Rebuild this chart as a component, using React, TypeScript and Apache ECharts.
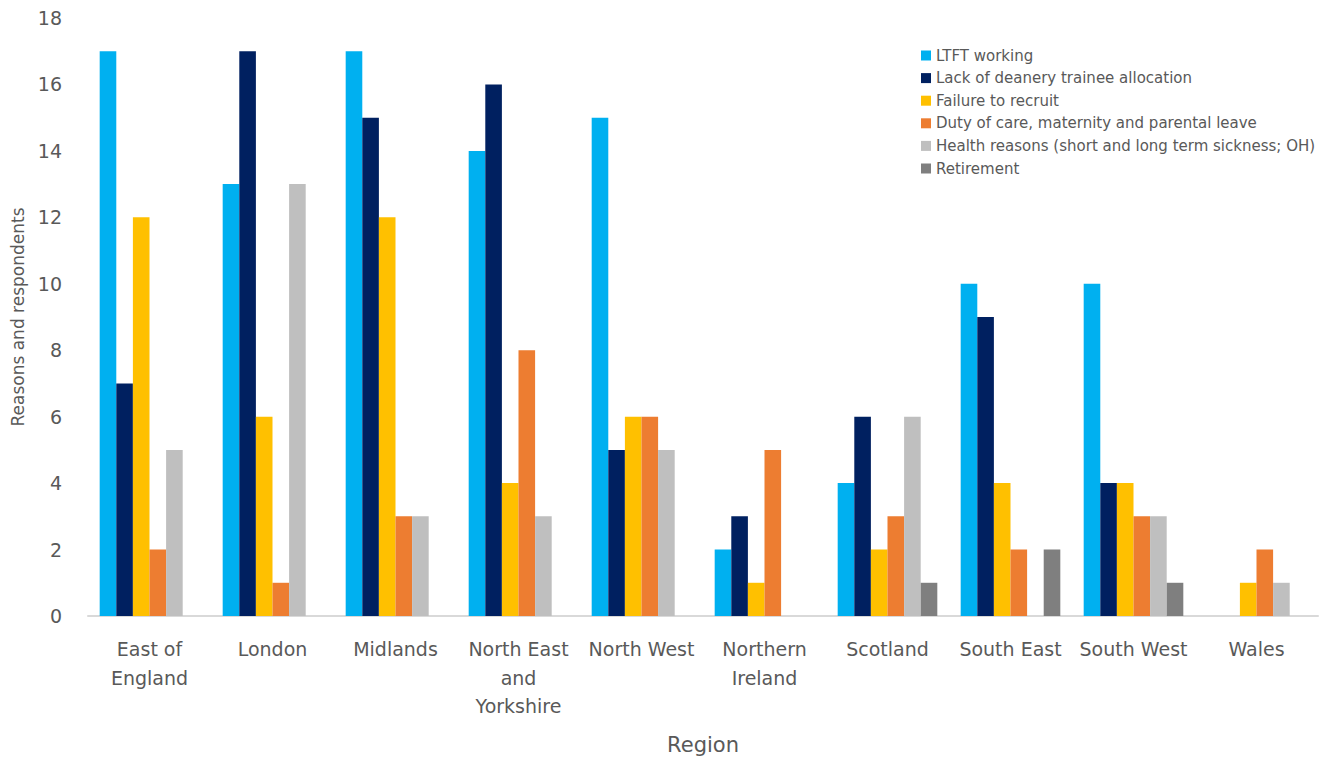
import React, { useEffect, useRef } from "react";
import * as echarts from "echarts";

const categories = [
  "East of England",
  "London",
  "Midlands",
  "North East and Yorkshire",
  "North West",
  "Northern Ireland",
  "Scotland",
  "South East",
  "South West",
  "Wales",
];

const categoryLabels = [
  "East of\nEngland",
  "London",
  "Midlands",
  "North East\nand\nYorkshire",
  "North West",
  "Northern\nIreland",
  "Scotland",
  "South East",
  "South West",
  "Wales",
];

const seriesNames = [
  "LTFT working",
  "Lack of deanery trainee allocation",
  "Failure to recruit",
  "Duty of care, maternity and parental leave",
  "Health reasons (short and long term sickness; OH)",
  "Retirement",
];

const ltft = [17, 13, 17, 14, 15, 2, 4, 10, 10, 0];
const lackAllocation = [7, 17, 15, 16, 5, 3, 6, 9, 4, 0];
const failureRecruit = [12, 6, 12, 4, 6, 1, 2, 4, 4, 1];
const dutyOfCare = [2, 1, 3, 8, 6, 5, 3, 2, 3, 2];
const health = [5, 13, 3, 3, 5, 0, 6, 0, 3, 1];
const retirement = [0, 0, 0, 0, 0, 0, 1, 2, 1, 0];

const colors = ["#00B0F0", "#002060", "#FFC000", "#ED7D31", "#BFBFBF", "#7F7F7F"];

const yTicks = { min: 0, max: 18, interval: 2 };

export default function App() {
  const ref = useRef<HTMLDivElement>(null);
  useEffect(() => {
    if (!ref.current) return;
    const chart = echarts.init(ref.current, undefined, { renderer: "svg" });
    const values = [ltft, lackAllocation, failureRecruit, dutyOfCare, health, retirement];
    const font = "'DejaVu Sans', sans-serif";
    chart.setOption({
      animation: false,
      textStyle: { fontFamily: font },
      grid: { left: 88, right: 18, top: 18, bottom: 137, containLabel: false },
      legend: {
        orient: "vertical",
        left: 916,
        top: 43,
        itemWidth: 10,
        itemHeight: 10,
        itemGap: 7.6,
        icon: "rect",
        textStyle: { fontSize: 15, color: "#595959", fontFamily: font, lineHeight: 15 },
        data: seriesNames,
      },
      xAxis: {
        type: "category",
        data: categories,
        name: "Region",
        nameLocation: "middle",
        nameGap: 118,
        nameTextStyle: { fontSize: 21, color: "#595959", fontFamily: font },
        axisLine: { show: true, lineStyle: { color: "#D9D9D9", width: 2 } },
        axisTick: { show: false },
        axisLabel: {
          fontSize: 19,
          color: "#595959",
          lineHeight: 28.5,
          margin: 19,
          interval: 0,
          fontFamily: font,
          formatter: (_v: string, i: number) => categoryLabels[i],
        },
      },
      yAxis: {
        type: "value",
        min: yTicks.min,
        max: yTicks.max,
        interval: yTicks.interval,
        name: "Reasons and respondents",
        nameLocation: "middle",
        nameRotate: 90,
        nameGap: 62,
        nameTextStyle: { fontSize: 17, color: "#595959", fontFamily: font },
        axisLine: { show: false },
        axisTick: { show: false },
        splitLine: { show: false },
        axisLabel: { fontSize: 19, color: "#595959", margin: 26, fontFamily: font },
      },
      series: seriesNames.map((name, i) => ({
        name,
        type: "bar",
        data: values[i],
        barGap: "0%",
        barCategoryGap: "19%",
        itemStyle: { color: colors[i] },
      })),
    });
    return () => chart.dispose();
  }, []);
  return (
    <div
      ref={ref}
      style={{ position: "absolute", left: 0, top: 0, width: 1336, height: 760 }}
    />
  );
}
